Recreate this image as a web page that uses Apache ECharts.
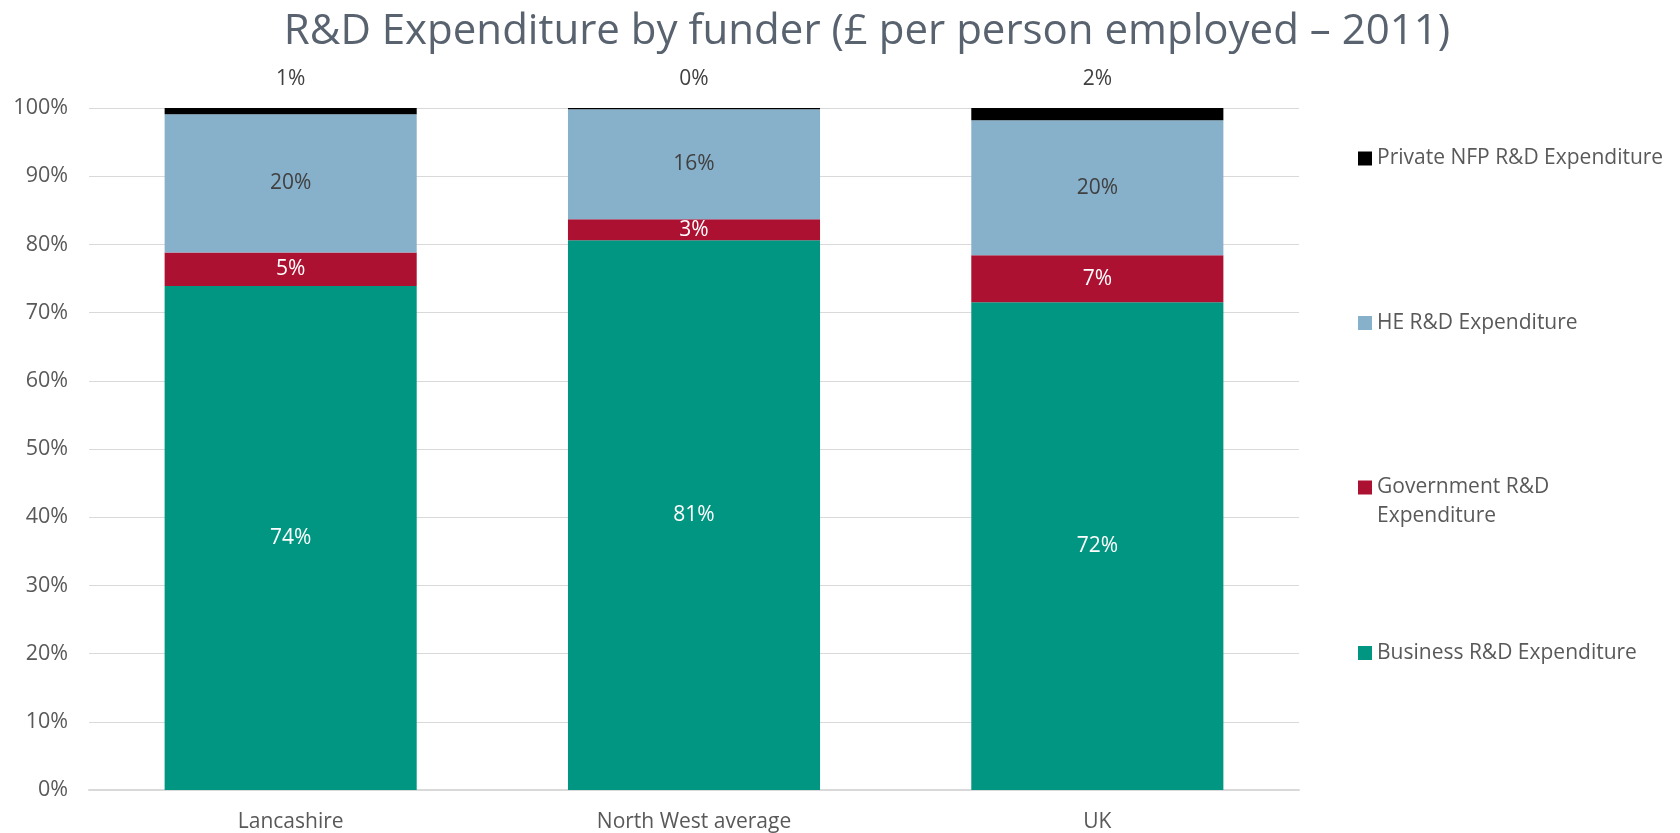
<!DOCTYPE html>
<html>
<head>
<meta charset="utf-8">
<title>R&amp;D Expenditure by funder</title>
<script src="https://cdn.jsdelivr.net/npm/echarts@6/dist/echarts.min.js"></script>
<style>
  html, body { margin: 0; padding: 0; background: #ffffff; }
  #chart { width: 1680px; height: 833px; }
</style>
</head>
<body>
<div id="chart"></div>
<script>
// Areas compared
const categories = ['Lancashire', 'North West average', 'UK'];

// Share of R&D expenditure by funder (% of total)
const businessRD   = [73.9, 80.6, 71.5];
const governmentRD = [4.9, 3.1, 6.9];
const heRD         = [20.3, 16.1, 19.8];
const privateNfpRD = [0.9, 0.2, 1.8];

const seriesNames = [
  'Business R&D Expenditure',
  'Government R&D Expenditure',
  'HE R&D Expenditure',
  'Private NFP R&D Expenditure'
];

const FONT = '"Open Sans", "Noto Sans", sans-serif';
const TEXT_GREY = '#595959';

const pct = p => Math.round(p.value) + '%';

function barSeries(name, data, color, labelColor, labelPos) {
  return {
    name: name,
    type: 'bar',
    stack: 'share',
    data: data,
    barWidth: '62.5%',
    itemStyle: { color: color },
    label: {
      show: true,
      position: labelPos,
      distance: labelPos === 'top' ? 18 : 5,
      formatter: pct,
      color: labelColor,
      fontFamily: FONT,
      fontSize: 21
    },
    emphasis: { disabled: true }
  };
}

// One legend block per series so each entry sits at its own height.
// The label text is centred on the swatch, so a leading blank line keeps
// the swatch level with the first line of a wrapped label.
function legendAt(name, top, text) {
  return {
    data: [name],
    orient: 'vertical',
    left: 1358,
    top: top,
    padding: 0,
    icon: 'rect',
    itemWidth: 14,
    itemHeight: 14,
    selectedMode: false,
    formatter: () => text,
    textStyle: {
      color: TEXT_GREY,
      fontFamily: FONT,
      fontSize: 21,
      lineHeight: 29
    }
  };
}

const chart = echarts.init(document.getElementById('chart'));
chart.setOption({
  backgroundColor: '#ffffff',
  animation: false,
  title: {
    text: 'R&D Expenditure by funder (£ per person employed – 2011)',
    left: 862,
    textAlign: 'center',
    top: 6,
    textStyle: {
      color: '#59636f',
      fontFamily: FONT,
      fontWeight: 'normal',
      fontSize: 42
    }
  },
  legend: [
    legendAt(seriesNames[3], 144, 'Private NFP R&D Expenditure'),
    legendAt(seriesNames[2], 308.5, 'HE R&D Expenditure'),
    legendAt(seriesNames[1], 444, '\nGovernment R&D\nExpenditure'),
    legendAt(seriesNames[0], 638.5, 'Business R&D Expenditure')
  ],
  grid: { left: 89, right: 381, top: 108, bottom: 43 },
  xAxis: {
    type: 'category',
    data: categories,
    axisTick: { show: false },
    axisLine: { lineStyle: { color: '#d9d9d9', width: 2 } },
    axisLabel: {
      color: TEXT_GREY,
      fontFamily: FONT,
      fontSize: 21,
      margin: 22
    }
  },
  yAxis: {
    type: 'value',
    min: 0,
    max: 100,
    interval: 10,
    axisLine: { show: false },
    axisTick: { show: false },
    splitLine: { lineStyle: { color: '#d9d9d9', width: 1 } },
    axisLabel: {
      formatter: '{value}%',
      color: TEXT_GREY,
      fontFamily: FONT,
      fontSize: 21.5,
      margin: 21
    }
  },
  series: [
    barSeries(seriesNames[0], businessRD, '#009681', '#ffffff', 'inside'),
    barSeries(seriesNames[1], governmentRD, '#ad1131', '#ffffff', 'inside'),
    barSeries(seriesNames[2], heRD, '#87b0ca', '#404040', 'inside'),
    barSeries(seriesNames[3], privateNfpRD, '#000000', '#404040', 'top')
  ]
});
</script>
</body>
</html>
